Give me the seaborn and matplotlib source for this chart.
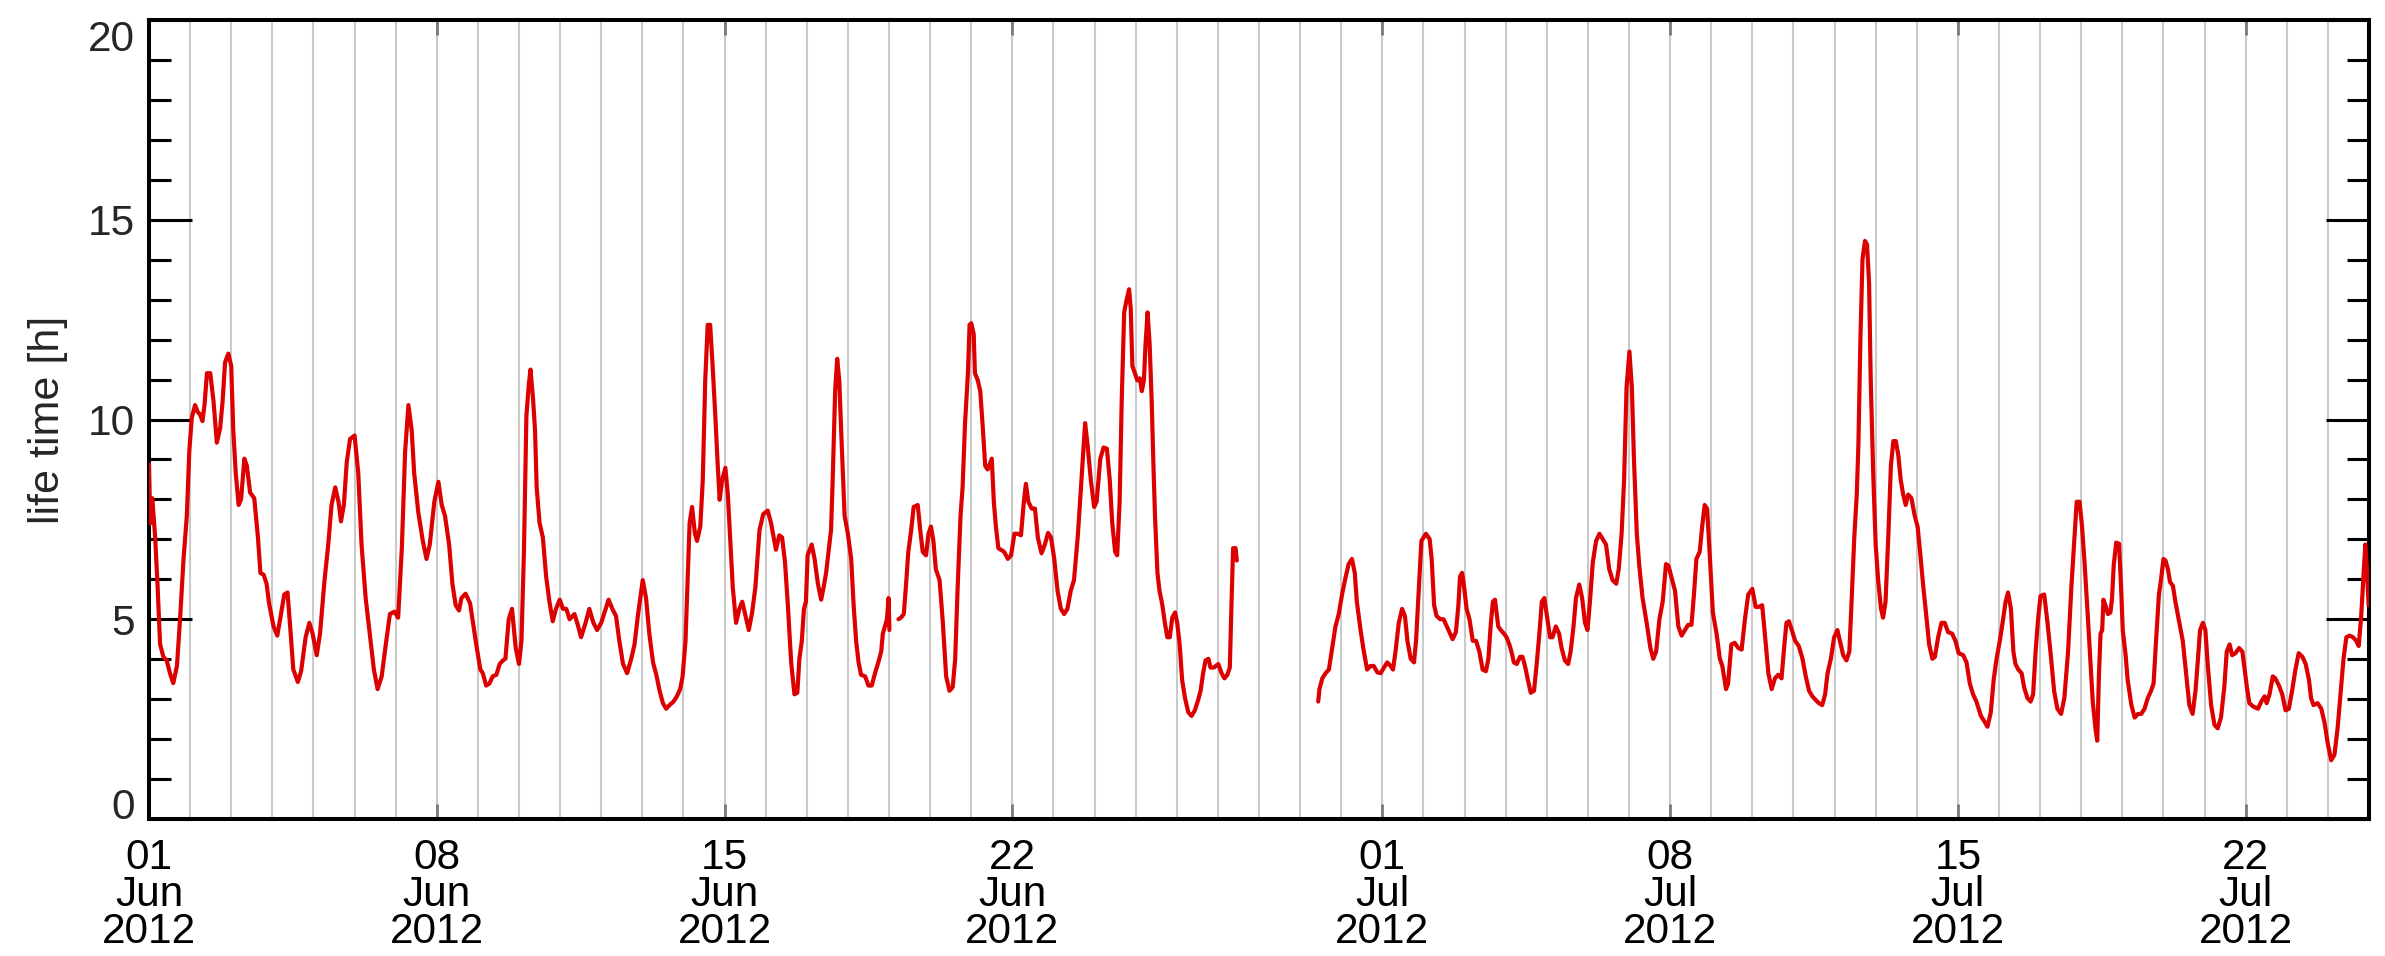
import numpy as np
import pandas as pd
import matplotlib
matplotlib.use("Agg")
import matplotlib.pyplot as plt
import matplotlib.dates as mdates
from matplotlib.ticker import MultipleLocator
import seaborn as sns

# ---- data: particle life time [h], in days after 2012-06-01 00:00 ----
seg1_day = [0.00, 0.03, 0.08, 0.15, 0.21, 0.27, 0.35, 0.43, 0.51, 0.59, 0.68, 0.76, 0.84, 0.92, 0.98,
            1.04, 1.12, 1.19, 1.24, 1.30, 1.35, 1.41, 1.49, 1.57, 1.65, 1.73, 1.79, 1.85, 1.93, 2.00,
            2.05, 2.11, 2.18, 2.24, 2.32, 2.38, 2.46, 2.56, 2.65, 2.71, 2.79, 2.86, 2.92, 3.03, 3.12,
            3.19, 3.29, 3.37, 3.44, 3.51, 3.62, 3.70, 3.81, 3.90, 3.98, 4.08, 4.16, 4.27, 4.36, 4.44,
            4.53, 4.61, 4.67, 4.74, 4.81, 4.89, 5.00, 5.09, 5.17, 5.27, 5.38, 5.47, 5.56, 5.66, 5.76,
            5.86, 5.97, 6.06, 6.15, 6.23, 6.31, 6.39, 6.45, 6.55, 6.66, 6.75, 6.83, 6.94, 7.04, 7.12,
            7.20, 7.30, 7.38, 7.46, 7.54, 7.60, 7.70, 7.81, 7.96, 8.06, 8.12, 8.20, 8.28, 8.36, 8.45,
            8.53, 8.61, 8.67, 8.75, 8.83, 8.92, 9.00, 9.06, 9.12, 9.18, 9.24, 9.28, 9.34, 9.39, 9.43,
            9.50, 9.58, 9.66, 9.74, 9.82, 9.90, 9.99, 10.07, 10.15, 10.23, 10.35, 10.43, 10.51, 10.62,
            10.71, 10.81, 10.90, 11.00, 11.08, 11.18, 11.27, 11.36, 11.44, 11.53, 11.63, 11.73, 11.81,
            11.89, 12.01, 12.09, 12.17, 12.26, 12.34, 12.42, 12.50, 12.58, 12.66, 12.76, 12.84, 12.92,
            12.98, 13.05, 13.11, 13.15, 13.21, 13.28, 13.33, 13.41, 13.47, 13.53, 13.59, 13.65, 13.71,
            13.78, 13.83, 13.88, 13.94, 14.02, 14.08, 14.14, 14.20, 14.28, 14.36, 14.43, 14.51, 14.59,
            14.67, 14.75, 14.85, 14.94, 15.05, 15.13, 15.25, 15.33, 15.40, 15.47, 15.54, 15.62, 15.70,
            15.77, 15.82, 15.88, 15.93, 15.98, 16.02, 16.12, 16.19, 16.27, 16.35, 16.41, 16.47, 16.53,
            16.59, 16.63, 16.69, 16.74, 16.79, 16.85, 16.92, 17.00, 17.08, 17.14, 17.20, 17.26, 17.32,
            17.42, 17.50, 17.58, 17.66, 17.74, 17.81, 17.85, 17.90, 17.95, 17.99, 18.01]
seg1_val = [8.88, 7.40, 8.03, 7.05, 5.80, 4.37, 4.06, 3.97, 3.65, 3.40, 3.83, 5.08, 6.51, 7.59, 9.20,
            10.04, 10.36, 10.18, 10.13, 9.96, 10.36, 11.16, 11.16, 10.45, 9.42, 9.78, 10.45, 11.43, 11.65, 11.34,
            9.73, 8.66, 7.86, 8.00, 9.02, 8.84, 8.17, 8.03, 7.05, 6.16, 6.11, 5.89, 5.40, 4.82, 4.59,
            5.00, 5.62, 5.67, 4.73, 3.74, 3.43, 3.70, 4.55, 4.91, 4.64, 4.10, 4.64, 5.98, 6.87, 7.86,
            8.30, 7.94, 7.45, 7.86, 8.93, 9.51, 9.60, 8.66, 6.87, 5.53, 4.55, 3.74, 3.25, 3.57, 4.37,
            5.13, 5.19, 5.04, 6.78, 9.20, 10.36, 9.73, 8.66, 7.68, 6.96, 6.51, 6.87, 7.94, 8.44, 7.86,
            7.59, 6.87, 5.89, 5.35, 5.22, 5.53, 5.64, 5.40, 4.37, 3.74, 3.65, 3.34, 3.39, 3.57, 3.61,
            3.88, 3.97, 4.01, 5.00, 5.26, 4.28, 3.88, 4.46, 6.69, 10.09, 10.89, 11.25, 10.54, 9.73, 8.30,
            7.41, 7.05, 6.07, 5.44, 4.95, 5.26, 5.49, 5.26, 5.26, 5.00, 5.13, 4.86, 4.55, 4.91,
            5.26, 4.91, 4.73, 4.91, 5.17, 5.49, 5.26, 5.08, 4.46, 3.88, 3.65, 4.01, 4.37,
            5.08, 5.98, 5.53, 4.64, 3.92, 3.61, 3.21, 2.90, 2.76, 2.85, 2.94, 3.07, 3.25,
            3.57, 4.46, 6.25, 7.41, 7.81, 7.14, 6.96, 7.32, 8.48, 10.98, 12.37, 12.37, 11.34,
            10.00, 8.93, 7.99, 8.48, 8.79, 8.12, 6.96, 5.80, 4.91, 5.26, 5.44, 5.08, 4.73,
            5.17, 5.80, 7.23, 7.63, 7.72, 7.41, 6.74, 7.10, 7.05, 6.43, 5.35, 3.92, 3.12,
            3.16, 4.01, 4.46, 5.26, 5.44, 6.60, 6.87, 6.51, 5.89, 5.49, 5.80, 6.16, 6.69,
            7.23, 8.48, 10.71, 11.52, 10.98, 9.37, 7.59, 7.14, 6.51, 5.35, 4.46, 3.92, 3.61,
            3.57, 3.34, 3.34, 3.65, 3.92, 4.19, 4.64, 4.82, 5.00, 5.53, 4.73]

seg2_day = [18.23, 18.29, 18.36, 18.41, 18.47, 18.54, 18.60, 18.70, 18.76, 18.82, 18.90, 18.96, 19.02,
            19.08, 19.14, 19.23, 19.31, 19.39, 19.47, 19.55, 19.61, 19.67, 19.74, 19.79, 19.85, 19.92,
            19.96, 20.00, 20.06, 20.09, 20.16, 20.22, 20.28, 20.34, 20.40, 20.50, 20.55, 20.60, 20.66,
            20.72, 20.80, 20.89, 20.97, 21.05, 21.13, 21.21, 21.28, 21.33, 21.39, 21.47, 21.55, 21.62,
            21.71, 21.79, 21.87, 21.94, 22.02, 22.10, 22.18, 22.26, 22.34, 22.42, 22.50, 22.59, 22.67,
            22.77, 22.83, 22.91, 22.99, 23.05, 23.14, 23.22, 23.30, 23.37, 23.43, 23.50, 23.55, 23.61,
            23.66, 23.72, 23.77, 23.84, 23.88, 23.92, 23.98, 24.04, 24.10, 24.15, 24.20, 24.24, 24.29,
            24.34, 24.39, 24.43, 24.47, 24.53, 24.58, 24.65, 24.71, 24.77, 24.83, 24.89, 24.96, 25.01,
            25.07, 25.13, 25.20, 25.28, 25.36, 25.44, 25.52, 25.58, 25.64, 25.70, 25.77, 25.82, 25.90,
            26.01, 26.09, 26.16, 26.23, 26.29, 26.33, 26.37, 26.43, 26.46]
seg2_val = [5.00, 5.04, 5.13, 5.80, 6.69, 7.23, 7.81, 7.86, 7.23, 6.69, 6.60, 7.14, 7.32,
            6.96, 6.25, 5.98, 4.91, 3.57, 3.21, 3.30, 4.01, 5.80, 7.59, 8.30, 9.91, 11.16,
            12.37, 12.41, 12.14, 11.16, 10.98, 10.71, 9.82, 8.84, 8.75, 9.02, 7.94, 7.32, 6.78,
            6.74, 6.69, 6.51, 6.60, 7.14, 7.14, 7.10, 7.94, 8.39, 7.94, 7.77, 7.77, 7.05,
            6.65, 6.87, 7.16, 7.05, 6.51, 5.71, 5.26, 5.13, 5.26, 5.71, 5.98, 7.05, 8.30,
            9.91, 9.37, 8.48, 7.81, 7.94, 9.02, 9.30, 9.27, 8.48, 7.41, 6.69, 6.60, 7.94,
            10.45, 12.68, 12.95, 13.26, 12.77, 11.34, 11.16, 10.98, 11.03, 10.71, 10.98, 11.88, 12.68,
            11.88, 10.45, 8.93, 7.59, 6.16, 5.71, 5.35, 4.91, 4.55, 4.55, 5.04, 5.17, 4.91,
            4.37, 3.48, 3.03, 2.67, 2.58, 2.72, 2.98, 3.21, 3.65, 3.97, 4.01, 3.79, 3.79,
            3.88, 3.65, 3.52, 3.61, 3.79, 5.35, 6.78, 6.78, 6.47]

seg3_day = [28.44, 28.47, 28.54, 28.62, 28.70, 28.78, 28.86, 28.94, 29.02, 29.10, 29.18, 29.26, 29.33,
            29.38, 29.47, 29.55, 29.63, 29.71, 29.79, 29.88, 29.96, 30.04, 30.12, 30.20, 30.26, 30.32,
            30.40, 30.48, 30.55, 30.61, 30.69, 30.77, 30.82, 30.89, 30.95, 31.06, 31.15, 31.20, 31.26,
            31.32, 31.41, 31.49, 31.57, 31.65, 31.71, 31.79, 31.85, 31.89, 31.94, 31.99, 32.05, 32.12,
            32.20, 32.28, 32.36, 32.44, 32.52, 32.58, 32.64, 32.69, 32.74, 32.82, 32.88, 32.96, 33.02,
            33.09, 33.15, 33.20, 33.27, 33.35, 33.41, 33.47, 33.54, 33.61, 33.69, 33.75, 33.82, 33.88,
            33.94, 34.01, 34.08, 34.14, 34.22, 34.30, 34.36, 34.44, 34.52, 34.58, 34.65, 34.71, 34.79,
            34.86, 34.93, 34.99, 35.05, 35.12, 35.20, 35.28, 35.36, 35.44, 35.52, 35.60, 35.69, 35.75,
            35.82, 35.88, 35.94, 36.01, 36.07, 36.12, 36.19, 36.25, 36.33, 36.43, 36.52, 36.59, 36.66,
            36.74, 36.82, 36.90, 36.96, 37.04, 37.12, 37.20, 37.28, 37.36, 37.44, 37.52, 37.58, 37.64,
            37.72, 37.78, 37.84, 37.90, 37.96, 38.04, 38.13, 38.21, 38.27, 38.36, 38.41, 38.49, 38.57,
            38.66, 38.74, 38.82, 38.90, 39.00, 39.08, 39.16, 39.24, 39.32, 39.39, 39.47, 39.55, 39.63,
            39.71, 39.78, 39.83, 39.89, 39.96, 40.04, 40.13, 40.22, 40.30, 40.38, 40.46, 40.54, 40.62,
            40.70, 40.77, 40.83, 40.91, 40.99, 41.07, 41.13, 41.21, 41.29, 41.36, 41.41, 41.48, 41.54,
            41.58, 41.63, 41.68, 41.74, 41.79, 41.84, 41.88, 41.94, 42.00, 42.06, 42.13, 42.18, 42.24,
            42.31, 42.37, 42.43, 42.49, 42.55, 42.61, 42.67, 42.73, 42.79, 42.87, 42.95, 43.02, 43.08,
            43.16, 43.24, 43.30, 43.38, 43.44, 43.52, 43.60, 43.68, 43.76, 43.86, 43.94, 44.02, 44.13,
            44.21, 44.29, 44.37, 44.45, 44.56, 44.64, 44.72, 44.80, 44.87, 44.94, 45.02, 45.10, 45.16,
            45.22, 45.29, 45.35, 45.40, 45.47, 45.55, 45.61, 45.69, 45.77, 45.83, 45.89, 45.95, 46.01,
            46.10, 46.18, 46.26, 46.34, 46.42, 46.51, 46.59, 46.68, 46.76, 46.84, 46.89, 46.96, 47.02,
            47.08, 47.16, 47.22, 47.28, 47.35, 47.39, 47.43, 47.47, 47.51, 47.54, 47.59, 47.65, 47.71,
            47.75, 47.79, 47.85, 47.92, 47.97, 48.01, 48.08, 48.13, 48.22, 48.30, 48.38, 48.46, 48.54,
            48.62, 48.70, 48.76, 48.82, 48.89, 48.94, 49.00, 49.05, 49.11, 49.16, 49.23, 49.29, 49.37,
            49.47, 49.55, 49.63, 49.71, 49.78, 49.84, 49.89, 49.96, 50.02, 50.08, 50.16, 50.24, 50.32,
            50.40, 50.48, 50.54, 50.61, 50.67, 50.75, 50.84, 50.92, 50.97, 51.03, 51.09, 51.19, 51.30,
            51.38, 51.46, 51.51, 51.58, 51.66, 51.72, 51.81, 51.89, 51.97, 52.05, 52.13, 52.21, 52.29,
            52.38, 52.46, 52.54, 52.59, 52.65, 52.75, 52.84, 52.92, 53.00, 53.08, 53.16, 53.24, 53.32,
            53.38, 53.45, 53.53, 53.61, 53.69, 53.75, 53.81, 53.87, 53.91, 53.95, 53.99]
seg3_val = [2.94, 3.25, 3.52, 3.65, 3.74, 4.28, 4.82, 5.13, 5.62, 6.02, 6.38, 6.51, 6.16,
            5.44, 4.73, 4.19, 3.74, 3.83, 3.83, 3.67, 3.65, 3.79, 3.92, 3.83, 3.74, 4.19,
            4.91, 5.26, 5.08, 4.46, 4.01, 3.92, 4.46, 5.80, 6.96, 7.14, 7.01, 6.51, 5.35,
            5.08, 5.00, 5.00, 4.82, 4.64, 4.50, 4.68, 5.35, 6.07, 6.16, 5.80, 5.26, 5.00,
            4.46, 4.46, 4.19, 3.74, 3.70, 4.01, 4.91, 5.44, 5.49, 4.82, 4.73, 4.64, 4.55,
            4.37, 4.15, 3.92, 3.88, 4.06, 4.06, 3.83, 3.48, 3.16, 3.21, 3.83, 4.64, 5.44,
            5.53, 5.04, 4.55, 4.55, 4.82, 4.64, 4.28, 3.97, 3.88, 4.19, 4.82, 5.53, 5.87,
            5.53, 4.91, 4.73, 5.44, 6.43, 6.96, 7.14, 7.01, 6.87, 6.25, 5.98, 5.89, 6.25,
            7.14, 8.48, 10.80, 11.70, 10.80, 9.02, 7.14, 6.34, 5.53, 4.91, 4.28, 4.01, 4.19,
            5.00, 5.44, 6.38, 6.34, 6.02, 5.71, 4.82, 4.59, 4.73, 4.86, 4.86, 5.62, 6.51,
            6.69, 7.32, 7.86, 7.77, 6.69, 5.17, 4.64, 4.01, 3.83, 3.25, 3.39, 4.37, 4.41,
            4.28, 4.24, 5.00, 5.62, 5.76, 5.31, 5.31, 5.35, 4.46, 3.65, 3.25, 3.52, 3.61,
            3.52, 4.37, 4.91, 4.95, 4.73, 4.46, 4.33, 4.01, 3.57, 3.21, 3.07, 2.98, 2.90,
            2.85, 3.12, 3.65, 4.01, 4.55, 4.73, 4.46, 4.10, 3.97, 4.19, 5.35, 7.05, 8.12,
            9.37, 12.06, 14.02, 14.47, 14.38, 13.40, 10.98, 8.66, 6.87, 5.98, 5.26, 5.04, 5.44,
            7.14, 8.84, 9.46, 9.46, 9.11, 8.48, 8.12, 7.86, 8.12, 8.03, 7.59, 7.32, 6.69,
            5.80, 5.00, 4.37, 4.01, 4.06, 4.55, 4.91, 4.91, 4.68, 4.64, 4.46, 4.15, 4.10,
            3.92, 3.39, 3.12, 2.94, 2.58, 2.45, 2.31, 2.67, 3.48, 4.01, 4.46, 5.00, 5.44,
            5.67, 5.26, 4.19, 3.88, 3.74, 3.65, 3.30, 3.03, 2.94, 3.12, 4.19, 5.00, 5.58,
            5.62, 4.91, 4.10, 3.21, 2.76, 2.63, 3.03, 4.19, 5.80, 7.14, 7.94, 7.94, 7.32,
            6.43, 5.08, 4.01, 2.94, 2.23, 1.96, 3.57, 4.64, 4.73, 5.49, 5.35, 5.13, 5.17,
            5.53, 6.34, 6.92, 6.89, 5.80, 4.73, 4.10, 3.48, 2.85, 2.54, 2.63, 2.63, 2.76,
            3.03, 3.21, 3.39, 4.46, 5.62, 5.98, 6.51, 6.47, 6.25, 5.93, 5.84, 5.44, 5.00,
            4.46, 3.65, 2.85, 2.63, 3.21, 4.01, 4.73, 4.91, 4.73, 3.83, 2.85, 2.36, 2.27,
            2.54, 3.30, 4.19, 4.37, 4.10, 4.15, 4.28, 4.19, 3.79, 3.30, 2.90, 2.81, 2.76,
            2.94, 3.07, 2.90, 3.12, 3.57, 3.52, 3.34, 3.12, 2.72, 2.76, 3.21, 3.74, 4.15,
            4.06, 3.88, 3.48, 3.03, 2.85, 2.90, 2.76, 2.40, 1.87, 1.47, 1.61, 2.31, 3.30,
            4.01, 4.55, 4.59, 4.55, 4.46, 4.33, 5.08, 6.16, 6.87, 6.25, 5.35]

start_date = "2012-06-01"
end_date = "2012-07-25"
tick_dates = ["2012-06-01", "2012-06-08", "2012-06-15", "2012-06-22",
              "2012-07-01", "2012-07-08", "2012-07-15", "2012-07-22"]
y_ticks = [0, 5, 10, 15, 20]

# ---- assemble one frame, one unit per continuous stretch of data ----
frames = []
for k, (d, v) in enumerate([(seg1_day, seg1_val), (seg2_day, seg2_val), (seg3_day, seg3_val)]):
    frames.append(pd.DataFrame({
        "time": pd.Timestamp(start_date) + pd.to_timedelta(np.asarray(d), unit="D"),
        "lifetime": v,
        "segment": k,
    }))
df = pd.concat(frames, ignore_index=True)

sns.set_style("white")
plt.rcParams["font.family"] = ["Liberation Sans", "DejaVu Sans"]

W, H = 2385, 956
fig = plt.figure(figsize=(W / 100, H / 100), dpi=100)
ax = fig.add_axes([149 / W, 1 - 819 / H, (2369 - 149) / W, (819 - 20) / H])

sns.lineplot(data=df, x="time", y="lifetime", units="segment", estimator=None,
             sort=False, color="#DD0000", linewidth=3.0, ax=ax, legend=False, zorder=3)

ax.set_xlim(pd.Timestamp(start_date), pd.Timestamp(end_date))
ax.set_ylim(0, 20)

# x axis: daily grid, weekly labels
ticks = pd.to_datetime(tick_dates)
ax.set_xticks(ticks)
ax.set_xticklabels([t.strftime("%d\n%b\n%Y") for t in ticks], linespacing=0.9)
ax.xaxis.set_minor_locator(mdates.DayLocator())
ax.grid(True, axis="x", which="both", color="#cacaca", linewidth=1.5, zorder=0)
ax.grid(False, axis="y")
ax.tick_params(axis="x", which="major", direction="in", length=11, width=2.0,
               color="#7a7a7a", top=True, bottom=True, labelsize=30.5, pad=14,
               labelcolor="black")
ax.tick_params(axis="x", which="minor", length=0, top=False, bottom=False)

# y axis: long inward ticks on both sides
ax.set_yticks(y_ticks)
ax.yaxis.set_minor_locator(MultipleLocator(1))
ax.tick_params(axis="y", which="major", direction="in", length=31, width=2.2,
               left=True, right=True, labelsize=30.5, pad=10, color="black")
ax.tick_params(axis="y", which="minor", direction="in", length=16, width=2.2,
               left=True, right=True, color="black")

ax.set_xlabel("")
ax.set_ylabel("life time [h]", fontsize=31, labelpad=14)

# keep the end labels of the y axis inside the axis range
ylabels = ax.get_yticklabels()
ylabels[0].set_verticalalignment("baseline")
ylabels[-1].set_verticalalignment("top")

for s in ax.spines.values():
    s.set_visible(True)
    s.set_color("black")
    s.set_linewidth(2.9)

fig.savefig("out.png", dpi=100, facecolor="white")
